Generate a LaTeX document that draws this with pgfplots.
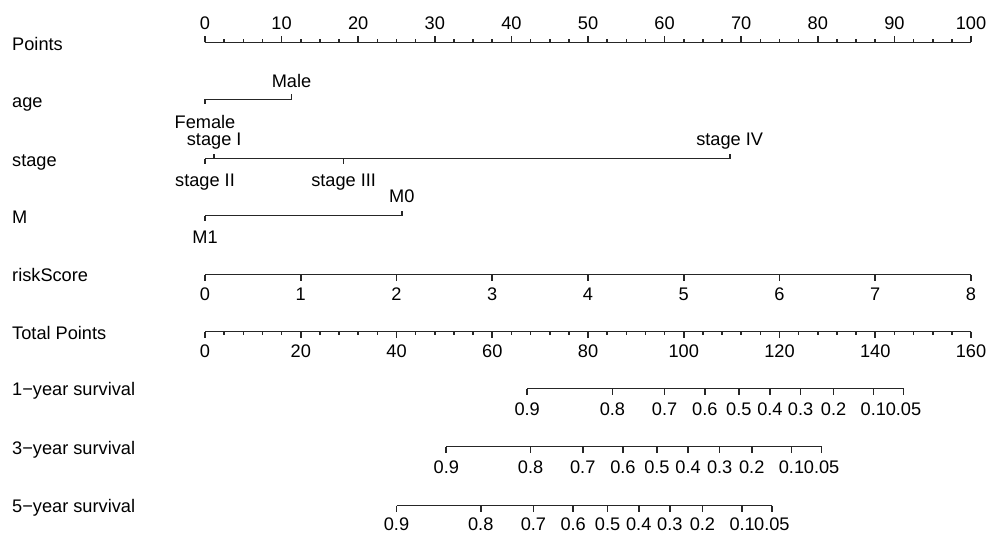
\documentclass[border=0pt]{standalone}
\usepackage{pgfplots}
\pgfplotsset{compat=1.18}
\usepackage{pgfplotstable}
\usepackage{fontspec}
\setmainfont{Liberation Sans}
\definecolor{ln}{HTML}{262626}

% survival scales: probability label, position in Total Points
\pgfplotstableread{
lab tp
0.9 67.3
0.8 85.1
0.7 96.0
0.6 104.4
0.5 111.5
0.4 118.0
0.3 124.4
0.2 131.3
0.1 139.6
0.05 145.9
}\surva
\pgfplotstableread{
lab tp
0.9 50.4
0.8 68.0
0.7 78.9
0.6 87.3
0.5 94.4
0.4 100.9
0.3 107.5
0.2 114.2
0.1 122.5
0.05 128.8
}\survb
\pgfplotstableread{
lab tp
0.9 40.0
0.8 57.6
0.7 68.6
0.6 76.9
0.5 84.1
0.4 90.6
0.3 97.1
0.2 103.9
0.1 112.2
0.05 118.4
}\survc
\pgfplotstableread{
v
0
10
20
30
40
50
60
70
80
90
100
}\pointsmajor
\pgfplotstableread{
v
0
20
40
60
80
100
120
140
160
}\totalmajor
\pgfplotstableread{
v
0
1
2
3
4
5
6
7
8
}\riskmajor
\pgfplotstableread{
v
0
2.5
5
7.5
10
12.5
15
17.5
20
22.5
25
27.5
30
32.5
35
37.5
40
42.5
45
47.5
50
52.5
55
57.5
60
62.5
65
67.5
70
72.5
75
77.5
80
82.5
85
87.5
90
92.5
95
97.5
100
}\pointsminor
% categorical predictors: points, label, side (1 = above, -1 = below)
\pgfplotstableread{
pt lab side
0 Female -1
11.3 Male 1
}\agetab
\pgfplotstableread{
pt lab side
0 {stage II} -1
1.2 {stage I} 1
18.1 {stage III} -1
68.5 {stage IV} 1
}\stagetab
\pgfplotstableread{
pt lab side
0 M1 -1
25.7 M0 1
}\mtab

\begin{document}
\begin{tikzpicture}[font=\fontsize{18.2bp}{21bp}\selectfont]
\begin{axis}[
  scale only axis, width=991bp, height=533bp,
  xmin=-26.7624, xmax=102.611, ymin=0, ymax=533, y dir=reverse,
  hide axis, clip=false,
  every axis plot/.append style={line width=1.6bp, draw=ln},
  nodes near coords align={center},
  every node near coord/.append style={text=black, inner sep=0pt, anchor=base},
]
\path (rel axis cs:0,0) rectangle (rel axis cs:1,1);

% ---- row titles
\node[anchor=base west, inner sep=0pt] at (axis cs:-25.195,50.7) {Points};
\node[anchor=base west, inner sep=0pt] at (axis cs:-25.195,107.7) {age};
\node[anchor=base west, inner sep=0pt] at (axis cs:-25.195,166.3) {stage};
\node[anchor=base west, inner sep=0pt] at (axis cs:-25.195,223.3) {M};
\node[anchor=base west, inner sep=0pt] at (axis cs:-25.195,281.7) {riskScore};
\node[anchor=base west, inner sep=0pt] at (axis cs:-25.195,339.3) {Total Points};
\node[anchor=base west, inner sep=0pt] at (axis cs:-25.195,395.5) {1−year survival};
\node[anchor=base west, inner sep=0pt] at (axis cs:-25.195,454.8) {3−year survival};
\node[anchor=base west, inner sep=0pt] at (axis cs:-25.195,512.5) {5−year survival};

% ---- Points
\addplot[mark=none] coordinates {(0,42.5) (100,42.5)};
\addplot[quiver={u=0,v=-3}] table[x=v, y index=0, y expr=42.5] {\pointsminor};
\addplot[quiver={u=0,v=-6}] table[x=v, y index=0, y expr=42.5] {\pointsmajor};
\addplot[draw=none, mark=none, nodes near coords, point meta=explicit symbolic]
  table[x=v, y index=0, y expr=30, meta=v] {\pointsmajor};

% ---- age
\addplot[mark=none] coordinates {(0,99.5) (11.3,99.5)};
\addplot[quiver={u=0,v=-5*\thisrow{side}}] table[x=pt, y expr=99.5] {\agetab};
\addplot[draw=none, mark=none, nodes near coords, point meta=explicit symbolic]
  table[x=pt, y expr={\thisrow{side}>0 ? 87.3 : 128.3}, meta=lab] {\agetab};

% ---- stage
\addplot[mark=none] coordinates {(0,158.5) (68.5,158.5)};
\addplot[quiver={u=0,v=-5*\thisrow{side}}] table[x=pt, y expr=158.5] {\stagetab};
\addplot[draw=none, mark=none, nodes near coords, point meta=explicit symbolic]
  table[x=pt, y expr={\thisrow{side}>0 ? 145.5 : 186.8}, meta=lab] {\stagetab};

% ---- M
\addplot[mark=none] coordinates {(0,215.5) (25.7,215.5)};
\addplot[quiver={u=0,v=-5*\thisrow{side}}] table[x=pt, y expr=215.5] {\mtab};
\addplot[draw=none, mark=none, nodes near coords, point meta=explicit symbolic]
  table[x=pt, y expr={\thisrow{side}>0 ? 202.7 : 243.3}, meta=lab] {\mtab};

% ---- riskScore (0..8 -> 0..100 points)
\addplot[mark=none] coordinates {(0,274.5) (100,274.5)};
\addplot[quiver={u=0,v=6}] table[x expr=\thisrow{v}*12.5, y index=0, y expr=274.5] {\riskmajor};
\addplot[draw=none, mark=none, nodes near coords, point meta=explicit symbolic]
  table[x expr=\thisrow{v}*12.5, y index=0, y expr=300, meta=v] {\riskmajor};

% ---- Total Points (0..160 -> 0..100 points)
\addplot[mark=none] coordinates {(0,331.5) (100,331.5)};
\addplot[quiver={u=0,v=3}] table[x=v, y index=0, y expr=331.5] {\pointsminor};
\addplot[quiver={u=0,v=6}] table[x expr=\thisrow{v}*0.625, y index=0, y expr=331.5] {\totalmajor};
\addplot[draw=none, mark=none, nodes near coords, point meta=explicit symbolic]
  table[x expr=\thisrow{v}*0.625, y index=0, y expr=357.7, meta=v] {\totalmajor};

% ---- survival scales (Total Points -> points: x 0.625)
\addplot[mark=none] coordinates {(42.0625,388.5) (91.1875,388.5)};
\addplot[quiver={u=0,v=6}] table[x expr=\thisrow{tp}*0.625, y expr=388.5] {\surva};
\addplot[draw=none, mark=none, nodes near coords, point meta=explicit symbolic]
  table[x expr=\thisrow{tp}*0.625, y expr=415, meta=lab] {\surva};

\addplot[mark=none] coordinates {(31.5,446.5) (80.5,446.5)};
\addplot[quiver={u=0,v=6}] table[x expr=\thisrow{tp}*0.625, y expr=446.5] {\survb};
\addplot[draw=none, mark=none, nodes near coords, point meta=explicit symbolic]
  table[x expr=\thisrow{tp}*0.625, y expr=473, meta=lab] {\survb};

\addplot[mark=none] coordinates {(25.0,505.5) (74.0,505.5)};
\addplot[quiver={u=0,v=6}] table[x expr=\thisrow{tp}*0.625, y expr=505.5] {\survc};
\addplot[draw=none, mark=none, nodes near coords, point meta=explicit symbolic]
  table[x expr=\thisrow{tp}*0.625, y expr=530.5, meta=lab] {\survc};
\end{axis}
\end{tikzpicture}
\end{document}
